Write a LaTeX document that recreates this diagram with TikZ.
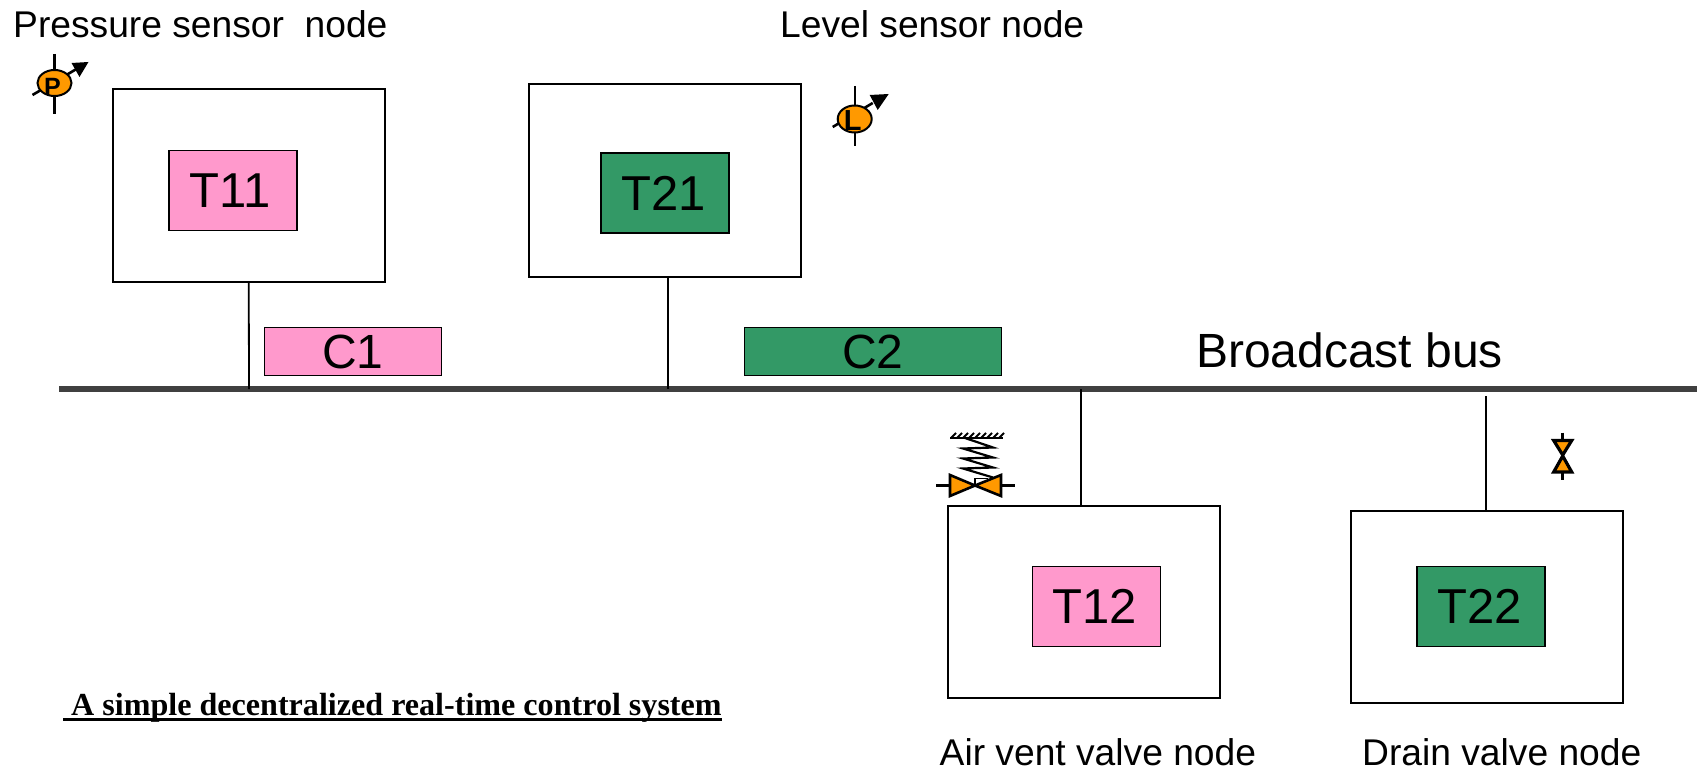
\documentclass[tikz,border=0pt]{standalone}
\usepackage{fontspec}
\setmainfont{Liberation Sans}
\newfontfamily\titlefont{Liberation Serif}
\definecolor{taskpink}{HTML}{FF99CC}
\definecolor{taskgreen}{HTML}{339966}
\definecolor{symbolorange}{HTML}{FF9900}
\tikzset{
    nodebox/.style={draw, line width=2pt, minimum width=272pt, minimum height=192pt, inner sep=0pt},
    taskbox/.style={draw, line width=1.4pt, minimum width=128pt, minimum height=80pt, inner sep=0pt, font=\fontsize{49}{52}\selectfont},
    msgbox/.style={draw, line width=1.4pt, minimum height=48pt, inner sep=0pt, font=\fontsize{48}{52}\selectfont},
    caption/.style={inner sep=0pt, anchor=base west, font=\fontsize{37.2}{42}\selectfont},
    symbol/.style={draw, line width=2.6pt, fill=symbolorange, line join=miter},
    stub/.style={line width=1.8pt},
}
\begin{document}
\begin{tikzpicture}[x=1pt, y=-1pt]
    \useasboundingbox (0,0) rectangle (1697,770);

    % Bus and the points where the nodes tap into it
    \coordinate (busleft) at (59,389);
    \coordinate (busright) at (1697,389);
    \coordinate (tap1) at (249,389);
    \coordinate (tap2) at (668,389);
    \coordinate (tap3) at (1081,389);
    \coordinate (tap4) at (1486,396);
    \draw[line width=5.5pt, black!75] (busleft) -- (busright);
    \node[inner sep=0pt, anchor=base west, font=\fontsize{48}{52}\selectfont] (buslabel) at (1196,367) {Broadcast bus};

    % Nodes with their tasks
    \node[nodebox] (box11) at (248.75,185.5) {};
    \node[taskbox, fill=taskpink] (t11) at (233,190.5) {T11\kern6pt\relax};
    \node[nodebox] (box21) at (664.5,180.5) {};
    \node[taskbox, fill=taskgreen] (t21) at (665,193) {T21\kern3pt\relax};
    \node[nodebox] (box12) at (1083.5,601.5) {};
    \node[taskbox, fill=taskpink] (t12) at (1096.5,606.5) {T12\kern4pt\relax};
    \node[nodebox] (box22) at (1486.5,607) {};
    \node[taskbox, fill=taskgreen] (t22) at (1481,606.5) {T22\kern3pt\relax};

    % Messages on the bus
    \node[msgbox, fill=taskpink, minimum width=176.5pt] (c1) at (353,351.5) {C1};
    \node[msgbox, fill=taskgreen, minimum width=256.5pt] (c2) at (873,351.5) {C2};

    % Stubs
    \draw[stub] (box11.south) -- (tap1);
    \draw[stub] (box21.south -| tap2) -- (tap2);
    \draw[stub] (tap3) -- (box12.north -| tap3);
    \draw[stub] (tap4) -- (box22.north -| tap4);

    % Captions
    \node[caption] (pressurelabel) at (13,38) {Pressure sensor\ \ node};
    \node[caption] (levellabel) at (780,38) {Level sensor node};
    \node[caption] (airlabel) at (939.5,765) {Air vent valve node};
    \node[caption] (drainlabel) at (1362,765) {Drain valve node};

    % Title
    \node[inner sep=0pt, anchor=base west, font=\titlefont\bfseries\fontsize{32.1}{36}\selectfont] (title) at (63,715) {\hspace*{8pt}A simple decentralized real-time control system};
    \draw[line width=2.2pt] ([yshift=-4.5pt]title.base west) -- ([yshift=-4.5pt]title.base east);

    % Pressure sensor
    \begin{scope}[shift={(54.5,83)}]
        \draw[line width=2.4pt] (0,-29) -- (0,31);
        \draw[line width=2.6pt] (-22,12) -- (22,-14);
        \fill (17,-20) -- (34,-21) -- (25,-6) -- cycle;
        \draw[symbol, line width=2pt] (0,0) ellipse (17 and 13);
        \node[inner sep=0pt, font=\bfseries\fontsize{25}{26}\selectfont] (plabel) at (-2,4) {P};
    \end{scope}

    % Level sensor
    \begin{scope}[shift={(854.7,119)}]
        \draw[line width=2.4pt] (0,-33) -- (0,27);
        \draw[line width=2.6pt] (-22,8) -- (18,-16);
        \fill (15,-24) -- (34,-25) -- (23,-9) -- cycle;
        \draw[symbol, line width=2pt] (0,0) ellipse (17 and 13.5);
        \node[inner sep=0pt, font=\bfseries\fontsize{29}{30}\selectfont] (llabel) at (-2,1.5) {L};
    \end{scope}

    % Air vent valve with spring
    \begin{scope}[shift={(975,485.5)}]
        \draw[line width=2.4pt] (-25,-47.5) -- (28,-47.5);
        \foreach \hx in {-24,-18,...,26} {
            \draw[line width=1.8pt] (\hx,-47.5) -- (\hx+5,-52.5);
        }
        \draw[line width=2.2pt] (-10,-47.5) -- (18,-38) -- (-12,-37) -- (18,-28) -- (-12,-27) -- (18,-18) -- (-12,-17) -- (18,-8);
        \draw[line width=1.6pt] (0,0) -- (0,-7) -- (13,-7);
        \draw[line width=2.4pt] (-39,0) -- (-25,0);
        \draw[line width=2.4pt] (26,0) -- (40,0);
        \draw[symbol] (-25,-10.5) -- (-25,10.5) -- (0,0) -- cycle;
        \draw[symbol] (26,-10.5) -- (26,10.5) -- (0,0) -- cycle;
    \end{scope}

    % Drain valve
    \begin{scope}[shift={(1562.7,455)}]
        \draw[line width=3.4pt] (0,-22.5) -- (0,-15);
        \draw[line width=3.4pt] (0,17.5) -- (0,25);
        \draw[symbol, line width=3.2pt] (-9,-14.5) -- (9,-14.5) -- (0,0) -- cycle;
        \draw[symbol, line width=3.2pt] (-9,17) -- (9,17) -- (0,1) -- cycle;
    \end{scope}
\end{tikzpicture}
\end{document}
